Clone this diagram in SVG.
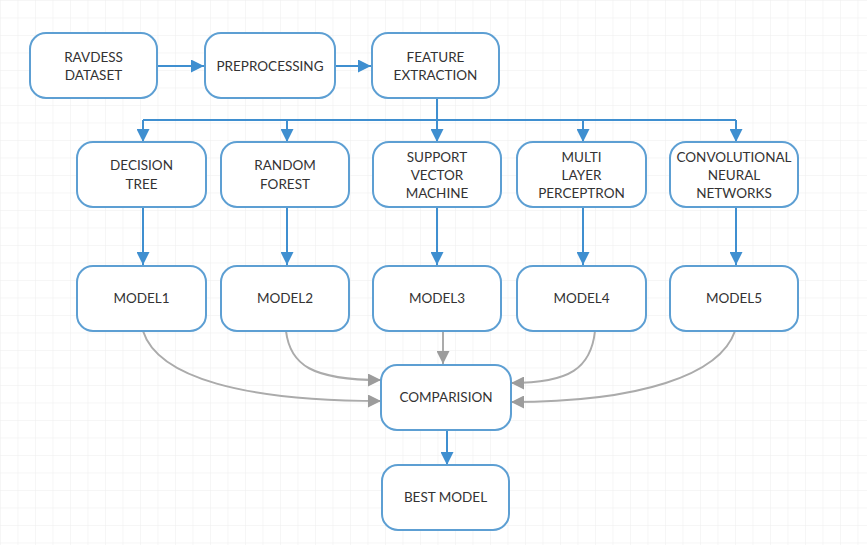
<svg xmlns="http://www.w3.org/2000/svg" width="867" height="545" viewBox="0 0 867 545">
  <defs>
    <pattern id="grid" width="17.5" height="17.5" patternUnits="userSpaceOnUse">
      <path d="M17.5 0 L0 0 0 17.5" fill="none" stroke="#eeeeee" stroke-width="1"/>
    </pattern>
    <marker id="blueHead" viewBox="0 0 10 10" refX="10" refY="5" markerWidth="13" markerHeight="13" markerUnits="userSpaceOnUse" orient="auto">
      <path d="M0 0 L10 5 L0 10 Z" fill="#3f8fd0"/>
    </marker>
    <marker id="grayHead" viewBox="0 0 10 10" refX="10" refY="5" markerWidth="13" markerHeight="13" markerUnits="userSpaceOnUse" orient="auto">
      <path d="M0 0 L10 5 L0 10 Z" fill="#9c9c9c"/>
    </marker>
  </defs>
  <style>
    .box { fill: #ffffff; stroke: #5d9fd3; stroke-width: 2; }
    .lbl { font-family: Lato, "Liberation Sans", sans-serif; font-size: 13.5px; fill: #333333; text-anchor: middle; }
    .flow { fill: none; stroke: #3f8fd0; stroke-width: 2; }
    .merge { fill: none; stroke: #ababab; stroke-width: 2; }
  </style>

  <rect width="867" height="545" fill="#ffffff"/>
  <rect width="867" height="545" fill="url(#grid)"/>

  <g id="connectors">
    <!-- pipeline across the top -->
    <path class="flow" d="M157 66 H204" marker-end="url(#blueHead)"/>
    <path class="flow" d="M335 66 H371" marker-end="url(#blueHead)"/>
    <!-- fan-out bus to the classifiers -->
    <path class="flow" d="M437 98 V120"/>
    <path class="flow" d="M143 120 H736"/>
    <path class="flow" d="M143 120 V142" marker-end="url(#blueHead)"/>
    <path class="flow" d="M287 120 V142" marker-end="url(#blueHead)"/>
    <path class="flow" d="M437 120 V142" marker-end="url(#blueHead)"/>
    <path class="flow" d="M583 120 V142" marker-end="url(#blueHead)"/>
    <path class="flow" d="M736 120 V142" marker-end="url(#blueHead)"/>
    <!-- classifier to model -->
    <path class="flow" d="M143 207 V265" marker-end="url(#blueHead)"/>
    <path class="flow" d="M287 207 V265" marker-end="url(#blueHead)"/>
    <path class="flow" d="M437 207 V265" marker-end="url(#blueHead)"/>
    <path class="flow" d="M583 207 V265" marker-end="url(#blueHead)"/>
    <path class="flow" d="M736 207 V265" marker-end="url(#blueHead)"/>
    <!-- models into comparison -->
    <path class="merge" d="M143 331 C158 378 245 401 381 401" marker-end="url(#grayHead)"/>
    <path class="merge" d="M286 331 C290 365 312 380 381 380" marker-end="url(#grayHead)"/>
    <path class="merge" d="M443 331 V364" marker-end="url(#grayHead)"/>
    <path class="merge" d="M595 331 C591 368 570 383 511 383" marker-end="url(#grayHead)"/>
    <path class="merge" d="M735 331 C720 375 640 402 511 402" marker-end="url(#grayHead)"/>
    <!-- comparison to best model -->
    <path class="flow" d="M447 430 V465" marker-end="url(#blueHead)"/>
  </g>

  <g id="ravdess">
    <rect class="box" x="30" y="33" width="127" height="65" rx="16"/>
    <text class="lbl" x="93.5" y="62">RAVDESS</text>
    <text class="lbl" x="93.5" y="80">DATASET</text>
  </g>
  <g id="preprocessing">
    <rect class="box" x="205" y="33" width="130" height="65" rx="16"/>
    <text class="lbl" x="270" y="71">PREPROCESSING</text>
  </g>
  <g id="feature-extraction">
    <rect class="box" x="372" y="33" width="127" height="65" rx="16"/>
    <text class="lbl" x="435.5" y="62">FEATURE</text>
    <text class="lbl" x="435.5" y="80">EXTRACTION</text>
  </g>

  <g id="decision-tree">
    <rect class="box" x="77" y="142" width="129" height="65" rx="16"/>
    <text class="lbl" x="141.5" y="170">DECISION</text>
    <text class="lbl" x="141.5" y="189">TREE</text>
  </g>
  <g id="random-forest">
    <rect class="box" x="221" y="142" width="128" height="65" rx="16"/>
    <text class="lbl" x="285" y="170">RANDOM</text>
    <text class="lbl" x="285" y="189">FOREST</text>
  </g>
  <g id="svm">
    <rect class="box" x="373" y="142" width="128" height="65" rx="16"/>
    <text class="lbl" x="437" y="162">SUPPORT</text>
    <text class="lbl" x="437" y="180">VECTOR</text>
    <text class="lbl" x="437" y="198">MACHINE</text>
  </g>
  <g id="mlp">
    <rect class="box" x="517" y="142" width="129" height="65" rx="16"/>
    <text class="lbl" x="581.5" y="162">MULTI</text>
    <text class="lbl" x="581.5" y="180">LAYER</text>
    <text class="lbl" x="581.5" y="198">PERCEPTRON</text>
  </g>
  <g id="cnn">
    <rect class="box" x="670" y="142" width="128" height="65" rx="16"/>
    <text class="lbl" x="734" y="162">CONVOLUTIONAL</text>
    <text class="lbl" x="734" y="180">NEURAL</text>
    <text class="lbl" x="734" y="198">NETWORKS</text>
  </g>

  <g id="model1">
    <rect class="box" x="77" y="266" width="129" height="65" rx="16"/>
    <text class="lbl" x="141.5" y="303">MODEL1</text>
  </g>
  <g id="model2">
    <rect class="box" x="221" y="266" width="128" height="65" rx="16"/>
    <text class="lbl" x="285" y="303">MODEL2</text>
  </g>
  <g id="model3">
    <rect class="box" x="373" y="266" width="128" height="65" rx="16"/>
    <text class="lbl" x="437" y="303">MODEL3</text>
  </g>
  <g id="model4">
    <rect class="box" x="517" y="266" width="129" height="65" rx="16"/>
    <text class="lbl" x="581.5" y="303">MODEL4</text>
  </g>
  <g id="model5">
    <rect class="box" x="670" y="266" width="128" height="65" rx="16"/>
    <text class="lbl" x="734" y="303">MODEL5</text>
  </g>

  <g id="comparision">
    <rect class="box" x="381" y="365" width="130" height="65" rx="16"/>
    <text class="lbl" x="446" y="402">COMPARISION</text>
  </g>
  <g id="best-model">
    <rect class="box" x="382" y="465" width="127" height="65" rx="16"/>
    <text class="lbl" x="445.5" y="502">BEST MODEL</text>
  </g>
</svg>
